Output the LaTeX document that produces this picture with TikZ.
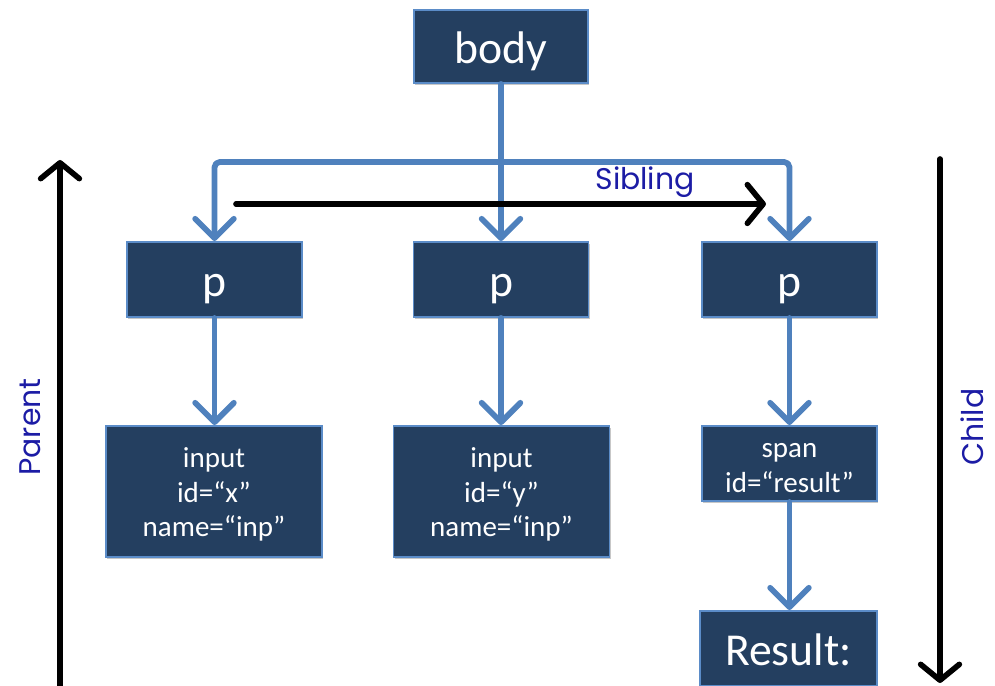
\documentclass[tikz,border=0pt]{standalone}
\usepackage{fontspec}
\setmainfont{Carlito}
\newfontfamily\labelfont{Poppins}
\usetikzlibrary{arrows.meta,shadows}

\definecolor{boxfill}{HTML}{243F60}
\definecolor{boxedge}{HTML}{5B8CC8}
\definecolor{linkblue}{HTML}{4F81BD}
\definecolor{labelblue}{RGB}{28,28,165}

\tikzset{
  elem/.style={draw=boxedge, line width=1.1pt, fill=boxfill, text=white,
    inner sep=0pt, align=center,
    drop shadow={shadow xshift=0.8pt, shadow yshift=-1.4pt, opacity=0.22, fill=black}},
  % single line, baseline about 9pt below the box centre
  bigelem/.style={elem, font=\fontsize{26}{30}\selectfont,
    text height=19pt, text depth=0pt},
  attrelem/.style={elem, font=\fontsize{16.5}{19.8}\selectfont, text depth=0pt},
  threeline/.style={attrelem, text height=51.6pt},
  twoline/.style={attrelem, font=\fontsize{16.5}{19.4}\selectfont, text height=32.5pt},
  link/.style={draw=linkblue, line width=3.3pt, line cap=round, line join=round,
    -{Straight Barb[length=11pt, width=22pt, line width=3.3pt, round]}},
  axis/.style={draw=black, line width=3.2pt, line cap=round,
    -{Straight Barb[length=9pt, width=22pt, line width=3.2pt, round]}},
  axislabel/.style={text=labelblue, font=\labelfont\fontsize{17}{20}\selectfont, inner sep=0pt}
}

\begin{document}
\begin{tikzpicture}[x=0.02cm, y=-0.02cm]
  \useasboundingbox (0,0) rectangle (995,686);
  \clip (0,0) rectangle (995,686);

  % element boxes
  \node[bigelem, minimum width=3.48cm, minimum height=1.46cm] (body) at (501,46.5) {body};

  \node[bigelem, minimum width=3.5cm, minimum height=1.5cm] (pl) at (214.5,279.5) {p};
  \node[bigelem, minimum width=3.5cm, minimum height=1.5cm] (pm) at (501,279.5) {p};
  \node[bigelem, minimum width=3.5cm, minimum height=1.5cm] (pr) at (789.5,279.5) {p};

  \node[threeline, minimum width=4.32cm, minimum height=2.62cm] (inx) at (214,491.5)
    {input\\id=“x”\\name=“inp”};
  \node[threeline, minimum width=4.32cm, minimum height=2.62cm] (iny) at (501.5,491.5)
    {input\\id=“y”\\name=“inp”};
  \node[twoline, minimum width=3.5cm, minimum height=1.5cm] (span) at (789.5,463.5)
    {span\\id=“result”};

  \node[bigelem, minimum width=3.54cm, minimum height=1.5cm] (res) at (788.5,648.5) {Result:};

  % tree connectors
  \coordinate (fork) at (501,162);
  \draw[link] (body.south) -- (pm.north);
  \draw[link, rounded corners=3pt] (fork) -| (pl.north);
  \draw[link, rounded corners=3pt] (fork) -| (pr.north);
  \draw[link] (pl.south) -- (pl.south |- inx.north);
  \draw[link] (pm.south) -- (pm.south |- iny.north);
  \draw[link] (pr.south) -- (pr.south |- span.north);
  \draw[link] (span.south) -- (span.south |- res.north);

  % navigation axes
  \coordinate (sibA) at (236,204);
  \coordinate (sibB) at (766,204);
  \draw[axis] (sibA) -- (sibB);
  \node[axislabel] (sib) at (645,182) {Sibling};

  \coordinate (parA) at (60,700);
  \coordinate (parB) at (60,160);
  \draw[axis] (parA) -- (parB);
  \node[axislabel, rotate=90] (par) at (30,427) {Parent};

  \coordinate (chiA) at (940,159);
  \coordinate (chiB) at (940,683);
  \draw[axis] (chiA) -- (chiB);
  \node[axislabel, rotate=90] (chi) at (972,427) {Child};
\end{tikzpicture}
\end{document}
